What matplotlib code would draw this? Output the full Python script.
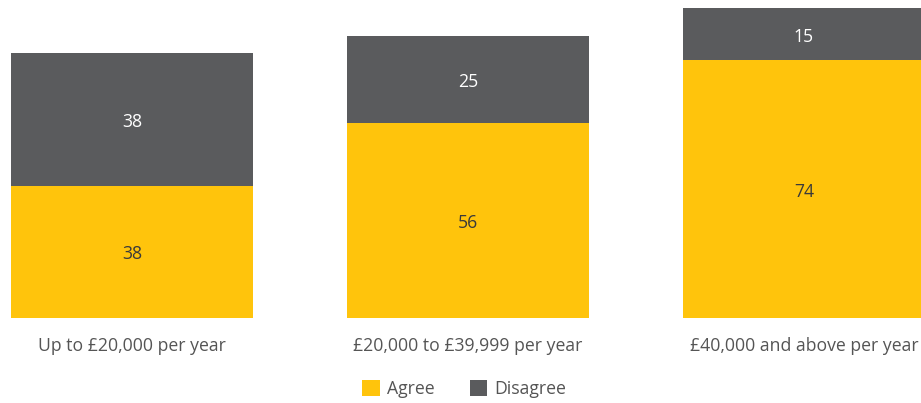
import matplotlib
matplotlib.use("Agg")
import matplotlib.pyplot as plt
from matplotlib.patches import Patch
from matplotlib.transforms import offset_copy

plt.rcParams['font.family'] = ['Open Sans', 'DejaVu Sans']

categories = ["Up to £20,000 per year", "£20,000 to £39,999 per year", "£40,000 and above per year"]
agree = [38, 56, 74]
disagree = [38, 25, 15]

YELLOW = "#FFC40C"
GREY = "#5A5B5D"
TEXT = "#555555"
FS = 12.7

fig = plt.figure(figsize=(9.21, 4.03), dpi=100)
ax = fig.add_axes([0.0, 0.211, 1.0, 0.769])

x = list(range(len(categories)))
w = 0.72
ax.bar(x, agree, width=w, color=YELLOW, linewidth=0)
ax.bar(x, disagree, width=w, bottom=agree, color=GREY, linewidth=0)

lbl_tr = offset_copy(ax.transData, fig=fig, x=0, y=-2.5, units="dots")
for i in x:
    ax.text(i, agree[i] / 2, f"{agree[i]}", ha="center", va="center",
            fontsize=FS, color="#3a3a3a", transform=lbl_tr)
    ax.text(i, agree[i] + disagree[i] / 2, f"{disagree[i]}", ha="center", va="center",
            fontsize=FS, color="white", transform=lbl_tr)

ax.set_xlim(-132 / 336, 789 / 336)
ax.set_ylim(0, 89)
ax.set_xticks(x)
ax.set_xticklabels(categories, fontsize=FS, color=TEXT)
ax.tick_params(axis="x", length=0, pad=14)
ax.set_yticks([])
for s in ax.spines.values():
    s.set_visible(False)

handles = [Patch(facecolor=YELLOW, edgecolor="none", label="Agree"),
           Patch(facecolor=GREY, edgecolor="none", label="Disagree")]
leg = fig.legend(handles=handles, loc="center", bbox_to_anchor=(0.504, 0.035), ncol=2,
                 frameon=False, fontsize=FS, handlelength=1.0, handleheight=1.0,
                 handletextpad=0.4, columnspacing=2.0)
for t in leg.get_texts():
    t.set_color(TEXT)

fig.savefig("out.png", dpi=100)
